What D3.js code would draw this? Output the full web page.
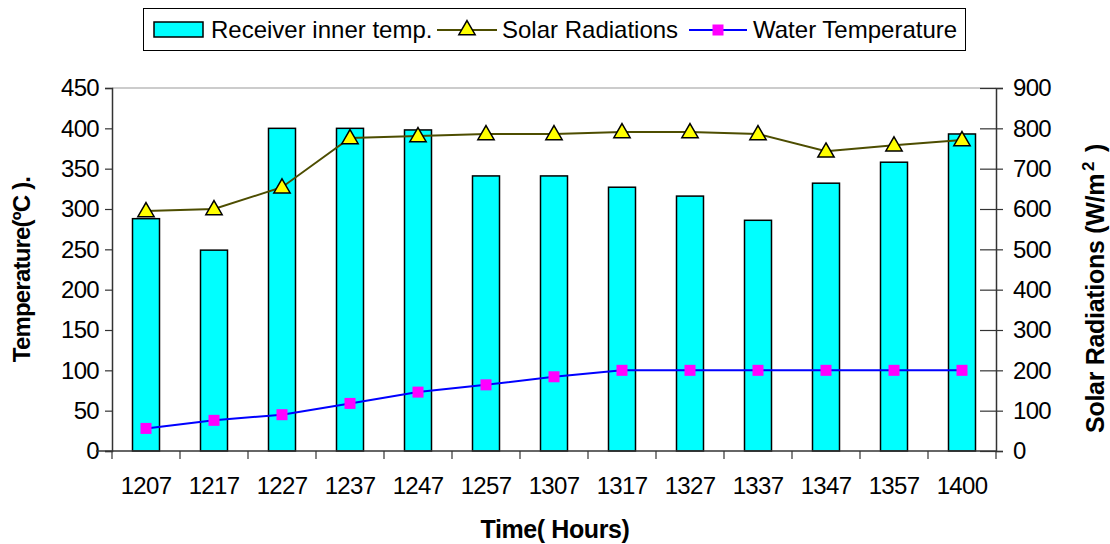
<!DOCTYPE html>
<html>
<head>
<meta charset="utf-8">
<title>Receiver temperature and solar radiation</title>
<script src="https://cdnjs.cloudflare.com/ajax/libs/d3/7.8.5/d3.min.js"></script>
<style>
  body { margin: 0; background: #fff; }
  text { font-family: "Liberation Sans", Arial, sans-serif; fill: #000; }
</style>
</head>
<body>
<script>
var times = ["1207", "1217", "1227", "1237", "1247", "1257", "1307", "1317", "1327", "1337", "1347", "1357", "1400"];
var receiverTemp = [288, 249, 400, 400, 398, 341, 341, 327, 316, 286, 332, 358, 393];
var solarRad = [595, 600, 654, 776, 781, 786, 786, 791, 791, 786, 743, 758, 771];
var waterTemp = [28, 38, 45, 59, 73, 82, 92, 100, 100, 100, 100, 100, 100];
var leftTicks = [0, 50, 100, 150, 200, 250, 300, 350, 400, 450];
var rightTicks = [0, 100, 200, 300, 400, 500, 600, 700, 800, 900];

var W = 1110, H = 544;
var pLeft = 112, pRight = 996, pTop = 88, pBottom = 451;
var fs = 24;

var svg = d3.select("body").append("svg")
    .attr("width", W)
    .attr("height", H);

var xs = d3.scaleBand().domain(times).range([pLeft, pRight]);
var yL = d3.scaleLinear().domain([0, 450]).range([pBottom, pTop]);
var yR = d3.scaleLinear().domain([0, 900]).range([pBottom, pTop]);
var cx = function(d, i) { return xs(times[i]) + xs.bandwidth() / 2; };

// plot area border (top edge)
svg.append("line")
    .attr("x1", pLeft).attr("x2", pRight)
    .attr("y1", pTop).attr("y2", pTop)
    .attr("stroke", "#999").attr("stroke-width", 1);

// bars
svg.append("g").selectAll("rect")
    .data(receiverTemp)
    .join("rect")
    .attr("x", function(d, i) { return cx(d, i) - 13.5; })
    .attr("width", 27)
    .attr("y", function(d) { return yL(d); })
    .attr("height", function(d) { return pBottom - yL(d); })
    .attr("fill", "#00ffff")
    .attr("stroke", "#000")
    .attr("stroke-width", 1.5);

// axes
var axL = svg.append("g")
    .attr("transform", "translate(" + pLeft + ",0)")
    .call(d3.axisLeft(yL).tickValues(leftTicks).tickSize(7).tickPadding(6));
var axR = svg.append("g")
    .attr("transform", "translate(" + pRight + ",0)")
    .call(d3.axisRight(yR).tickValues(rightTicks).tickSize(7).tickPadding(10));
axR.selectAll(".tick line").attr("x1", -16);
var axB = svg.append("g")
    .attr("transform", "translate(0," + pBottom + ")")
    .call(d3.axisBottom(xs).tickSize(0).tickPadding(26));

// category boundary ticks on x axis
svg.append("g").selectAll("line")
    .data(d3.range(times.length + 1))
    .join("line")
    .attr("x1", function(i) { return pLeft + i * xs.step(); })
    .attr("x2", function(i) { return pLeft + i * xs.step(); })
    .attr("y1", pBottom).attr("y2", pBottom + 8)
    .attr("stroke", "#333").attr("stroke-width", 1.2);

[axL, axR, axB].forEach(function(a) {
    a.select(".domain").attr("stroke", "#333").attr("stroke-width", 1.5);
    a.selectAll(".tick line").attr("stroke", "#333").attr("stroke-width", 1.2);
    a.selectAll("text")
        .attr("font-size", fs)
        .attr("font-family", "Liberation Sans, Arial, sans-serif")
        .attr("letter-spacing", "-0.7px")
        .attr("fill", "#000");
});
axB.select(".domain").attr("d", "M" + (pLeft - 16) + ",0H" + pRight);

// solar radiation line
var solarLine = d3.line()
    .x(cx)
    .y(function(d) { return yR(d); });
svg.append("path")
    .attr("d", solarLine(solarRad))
    .attr("fill", "none")
    .attr("stroke", "#4d4d00")
    .attr("stroke-width", 2);

var tri = d3.symbol().type(d3.symbolTriangle).size(115);
svg.append("g").selectAll("path")
    .data(solarRad)
    .join("path")
    .attr("d", tri)
    .attr("transform", function(d, i) { return "translate(" + cx(d, i) + "," + (yR(d) + 1) + ")"; })
    .attr("fill", "#ffff00")
    .attr("stroke", "#000")
    .attr("stroke-width", 1.5);

// water temperature line
var waterLine = d3.line()
    .x(cx)
    .y(function(d) { return yL(d); });
svg.append("path")
    .attr("d", waterLine(waterTemp))
    .attr("fill", "none")
    .attr("stroke", "#0000ff")
    .attr("stroke-width", 2);

svg.append("g").selectAll("rect")
    .data(waterTemp)
    .join("rect")
    .attr("x", function(d, i) { return cx(d, i) - 5.5; })
    .attr("y", function(d) { return yL(d) - 5.5; })
    .attr("width", 11).attr("height", 11)
    .attr("fill", "#ff00ff");

// axis titles
svg.append("text")
    .attr("transform", "translate(30," + ((pTop + pBottom) / 2) + ") rotate(-90)")
    .attr("text-anchor", "middle")
    .attr("font-size", fs).attr("font-weight", "bold")
    .attr("letter-spacing", "-0.8px")
    .text("Temperature(ºC ).");

var rt = svg.append("text")
    .attr("transform", "translate(1104," + ((pTop + pBottom) / 2 + 19) + ") rotate(-90)")
    .attr("text-anchor", "middle")
    .attr("font-size", 25).attr("font-weight", "bold")
    .attr("letter-spacing", "-0.3px");
rt.append("tspan").text("Solar Radiations (W/m");
rt.append("tspan").attr("dx", 3).attr("dy", -10).attr("font-size", 17).text("2");
rt.append("tspan").attr("dx", 3).attr("dy", 10).text(" )");

svg.append("text")
    .attr("x", 555)
    .attr("y", 538)
    .attr("text-anchor", "middle")
    .attr("font-size", 25).attr("font-weight", "bold")
    .attr("letter-spacing", "-0.4px")
    .text("Time( Hours)");

// legend
var lg = svg.append("g");
lg.append("rect")
    .attr("x", 143.5).attr("y", 8.5).attr("width", 822).attr("height", 42)
    .attr("fill", "#fff").attr("stroke", "#000").attr("stroke-width", 1);
lg.append("rect")
    .attr("x", 154).attr("y", 22).attr("width", 49).attr("height", 15)
    .attr("fill", "#00ffff").attr("stroke", "#000").attr("stroke-width", 1.5);
lg.append("text").attr("x", 211).attr("y", 38)
    .attr("font-size", fs).text("Receiver inner temp.");
lg.append("line").attr("x1", 437).attr("x2", 497).attr("y1", 30).attr("y2", 30)
    .attr("stroke", "#4d4d00").attr("stroke-width", 2);
lg.append("path").attr("d", tri).attr("transform", "translate(467,30)")
    .attr("fill", "#ffff00").attr("stroke", "#000").attr("stroke-width", 1.5);
lg.append("text").attr("x", 502).attr("y", 38)
    .attr("font-size", fs).text("Solar Radiations");
lg.append("line").attr("x1", 689).attr("x2", 747).attr("y1", 30).attr("y2", 30)
    .attr("stroke", "#0000ff").attr("stroke-width", 2);
lg.append("rect").attr("x", 712.5).attr("y", 24.5).attr("width", 11).attr("height", 11)
    .attr("fill", "#ff00ff");
lg.append("text").attr("x", 753).attr("y", 38)
    .attr("font-size", fs).text("Water Temperature");
</script>
</body>
</html>
